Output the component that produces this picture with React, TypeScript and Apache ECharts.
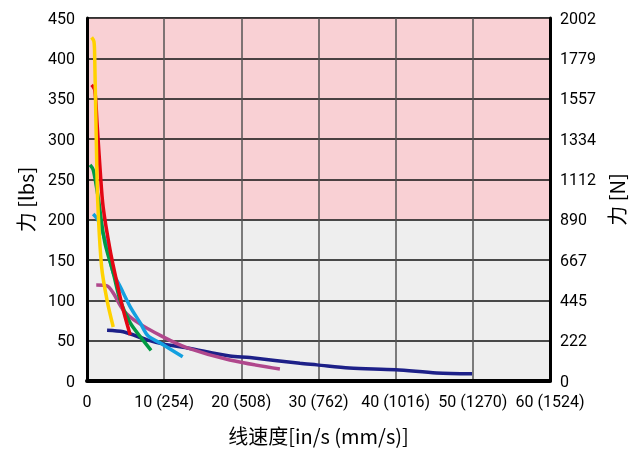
import React, { useEffect, useRef } from "react";
import * as echarts from "echarts";

const xTickLabels = ["0", "10 (254)", "20 (508)", "30 (762)", "40 (1016)", "50 (1270)", "60 (1524)"];
const newtonLabels = ["0", "222", "445", "667", "890", "1112", "1334", "1557", "1779", "2002"];

const yellowData = [[0.6, 426], [0.9, 421], [1.0, 400], [1.2, 300], [1.4, 220], [1.9, 141], [2.6, 100], [3.4, 67]];
const redData = [[0.6, 367], [1.0, 361], [1.3, 320], [1.7, 262], [2.1, 215], [3.0, 162], [3.9, 121], [4.7, 88], [5.6, 57]];
const greenData = [[0.4, 268], [0.8, 262], [1.2, 242], [1.5, 224], [2.3, 172], [3.4, 134], [4.3, 100], [5.6, 72], [6.9, 55], [8.3, 38]];
const cyanData = [[0.8, 207], [1.4, 200], [2.0, 185], [2.6, 166], [3.4, 134], [4.3, 117], [5.6, 92], [6.9, 72], [7.9, 56], [9.5, 47], [12.4, 30]];
const magentaData = [[1.2, 119], [2.6, 118], [3.4, 109], [4.7, 88], [6.5, 73], [9.8, 55], [13, 41], [18.5, 26], [25, 15]];
const navyData = [[2.6, 63], [4.7, 61], [7.8, 51], [9.8, 46], [13, 41], [18.5, 31], [21.1, 29], [27.6, 22], [29.8, 20], [34, 16], [40, 14], [45.3, 10], [49.9, 9]];

const seriesList = [
  { name: "navy", data: navyData, color: "#1d2088" },
  { name: "magenta", data: magentaData, color: "#b0478c" },
  { name: "cyan", data: cyanData, color: "#13a0e0" },
  { name: "green", data: greenData, color: "#009a44" },
  { name: "red", data: redData, color: "#e30613" },
  { name: "yellow", data: yellowData, color: "#ffd200" },
];

const FONT = "Roboto, 'Liberation Sans', sans-serif";
const CJK = "'Noto Sans CJK SC', Roboto, sans-serif";

export default function App() {
  const ref = useRef<HTMLDivElement>(null);
  useEffect(() => {
    const chart = echarts.init(ref.current!, null, { renderer: "svg" });
    const pink = "#f9d0d4";
    const grey = "#eeeeee";
    chart.setOption({
      animation: false,
      grid: {
        left: 87,
        right: 92,
        top: 18,
        bottom: 69,
        outerBoundsMode: "none",
        containLabel: false,
        show: true,
        borderColor: "#333",
        borderWidth: 1,
        backgroundColor: "transparent",
      },
      xAxis: {
        type: "value",
        min: 0,
        max: 60,
        interval: 10,
        name: "线速度[in/s (mm/s)]",
        nameLocation: "middle",
        nameGap: 44,
        nameTextStyle: { fontFamily: CJK, fontSize: 20, color: "#000" },
        axisLine: { show: true, lineStyle: { color: "#000", width: 4 } },
        axisTick: { show: false },
        axisLabel: {
          fontFamily: FONT,
          fontSize: 16,
          color: "#000",
          margin: 12,
          showMinLabel: true,
          showMaxLabel: true,
          hideOverlap: false,
          formatter: (v: number) => xTickLabels[Math.round(v / 10)] ?? "",
        },
        splitLine: { show: true, lineStyle: { color: "#555", width: 1.5 } },
      },
      yAxis: [
        {
          type: "value",
          min: 0,
          max: 450,
          interval: 50,
          position: "left",
          name: "力 [lbs]",
          nameLocation: "middle",
          nameRotate: 90,
          nameGap: 52,
          nameTextStyle: { fontFamily: CJK, fontSize: 20, color: "#000" },
          axisLine: { show: true, lineStyle: { color: "#000", width: 3 } },
          axisTick: { show: false },
          axisLabel: { fontFamily: FONT, fontSize: 16, color: "#000", margin: 12 },
          splitLine: { show: true, lineStyle: { color: "#111", width: 1.5 } },
          splitArea: { show: true, areaStyle: { color: [grey, grey, grey, grey, pink, pink, pink, pink, pink] } },
        },
        {
          type: "value",
          min: 0,
          max: 450,
          interval: 50,
          position: "right",
          name: "力 [N]",
          nameLocation: "middle",
          nameRotate: 90,
          nameGap: 54,
          nameTextStyle: { fontFamily: CJK, fontSize: 20, color: "#000" },
          axisLine: { show: true, lineStyle: { color: "#000", width: 3 } },
          axisTick: { show: false },
          axisLabel: {
            fontFamily: FONT,
            fontSize: 16,
            color: "#000",
            margin: 10,
            formatter: (v: number) => newtonLabels[Math.round(v / 50)] ?? "",
          },
          splitLine: { show: false },
        },
      ],
      series: seriesList.map((s) => ({
        type: "line",
        name: s.name,
        data: s.data,
        yAxisIndex: 0,
        smooth: 0.3,
        showSymbol: false,
        symbol: "none",
        lineStyle: { color: s.color, width: 3.5 },
        itemStyle: { color: s.color },
      })),
    });
    return () => chart.dispose();
  }, []);
  return <div ref={ref} style={{ position: "fixed", left: 0, top: 0, width: 642, height: 450 }} />;
}
